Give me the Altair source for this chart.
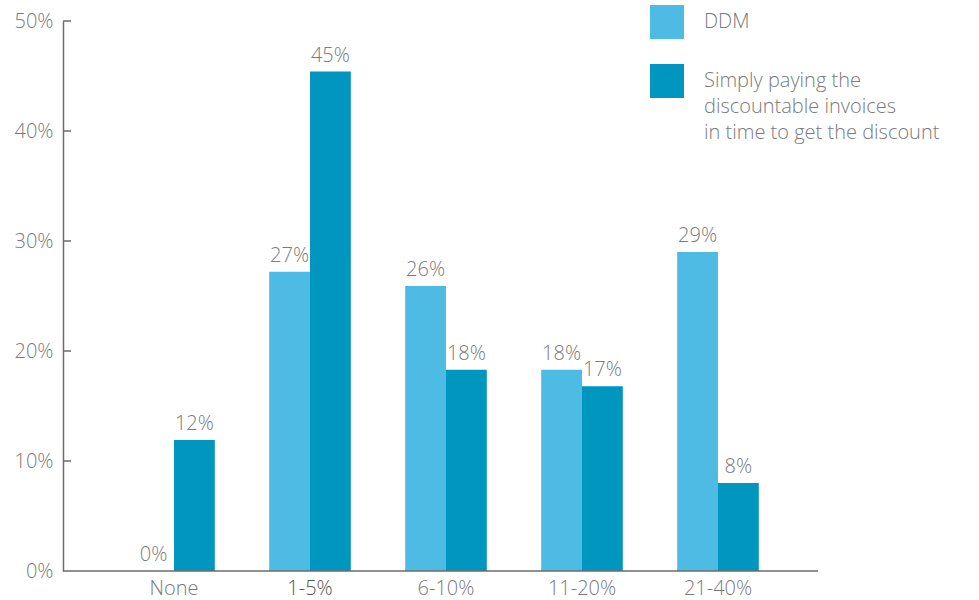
import altair as alt
import pandas as pd

# Discount bands and the two approaches compared
categories = ["None", "1-5%", "6-10%", "11-20%", "21-40%"]
series = ["DDM", "Simply paying the\ndiscountable invoices\nin time to get the discount"]
ddm = [0.0, 0.272, 0.259, 0.183, 0.290]
simply = [0.119, 0.454, 0.183, 0.168, 0.080]
y_ticks = [0.0, 0.1, 0.2, 0.3, 0.4, 0.5]

colors = ["#4ebbe4", "#0096c0"]
gray = "#7a7a7a"
font = "Open Sans"

rows = []
for i, c in enumerate(categories):
    rows.append({"band": c, "series": series[0], "value": ddm[i]})
    rows.append({"band": c, "series": series[1], "value": simply[i]})
df = pd.DataFrame(rows)

W, H = 755, 550

x_scale = alt.Scale(domain=categories, range=[43, 723], paddingInner=0.4, paddingOuter=0.2)
y_scale = alt.Scale(domain=[0, 0.5], nice=False)

x_enc = alt.X(
    "band:N",
    scale=x_scale,
    sort=categories,
    axis=alt.Axis(
        title=None,
        domain=False,
        ticks=False,
        tickSize=0,
        labelAngle=0,
        labelFont=font,
        labelFontSize=20,
        labelFontWeight=300,
        labelColor={"condition": {"test": "datum.value === '1-5%'", "value": "#555555"}, "value": gray},
        labelPadding=7,
    ),
)

bars = alt.Chart(df).mark_bar().encode(
    x=x_enc,
    xOffset=alt.XOffset("series:N", sort=series),
    y=alt.Y(
        "value:Q",
        scale=y_scale,
        axis=alt.Axis(
            title=None,
            values=y_ticks,
            format=".0%",
            grid=False,
            ticks=False,
            tickSize=0,
            domain=True,
            domainColor="#6b6b6b",
            domainWidth=1.5,
            labelFont=font,
            labelFontSize=20,
            labelFontWeight=300,
            labelColor=gray,
            labelPadding=10,
        ),
    ),
    color=alt.Color(
        "series:N",
        sort=series,
        scale=alt.Scale(domain=series, range=colors),
        legend=alt.Legend(
            title=None,
            orient="none",
            legendX=587,
            legendY=-16,
            symbolType="square",
            symbolSize=1156,
            symbolStrokeWidth=0,
            symbolOpacity=1,
            labelFont=font,
            labelFontSize=20,
            labelFontWeight=300,
            labelColor=gray,
            labelOffset=20,
            labelLimit=400,
            labelExpr="split(datum.label, '\\n')",
            rowPadding=25,
        ),
    ),
)

labels = alt.Chart(df).mark_text(
    baseline="alphabetic", dy=-10, font=font, fontSize=20, fontWeight=300, color=gray
).encode(
    x=alt.X("band:N", scale=x_scale, sort=categories),
    xOffset=alt.XOffset("series:N", sort=series),
    y=alt.Y("value:Q", scale=y_scale),
    text=alt.Text("value:Q", format=".0%"),
)

# inward tick marks on the value axis
ticks = alt.Chart(pd.DataFrame({"t": y_ticks[1:]})).mark_rule(
    color="#6b6b6b", strokeWidth=1.5
).encode(y=alt.Y("t:Q", scale=y_scale), x=alt.value(0), x2=alt.value(8))

# baseline along the category axis
baseline = alt.Chart(pd.DataFrame({"t": [0.0]})).mark_rule(
    color="#6b6b6b", strokeWidth=1.5
).encode(y=alt.Y("t:Q", scale=y_scale), x=alt.value(0), x2=alt.value(W))

chart = alt.layer(bars, labels, ticks, baseline).properties(
    width=W,
    height=H,
    background="white",
    autosize=alt.AutoSizeParams(type="none"),
    padding={"left": 63, "top": 21, "right": 161, "bottom": 29},
).configure(
    view={"stroke": None},
    style={"guide-label": {"lineHeight": 26}},
)

chart.save("out.html", embed_options={"renderer": "svg", "actions": False})
